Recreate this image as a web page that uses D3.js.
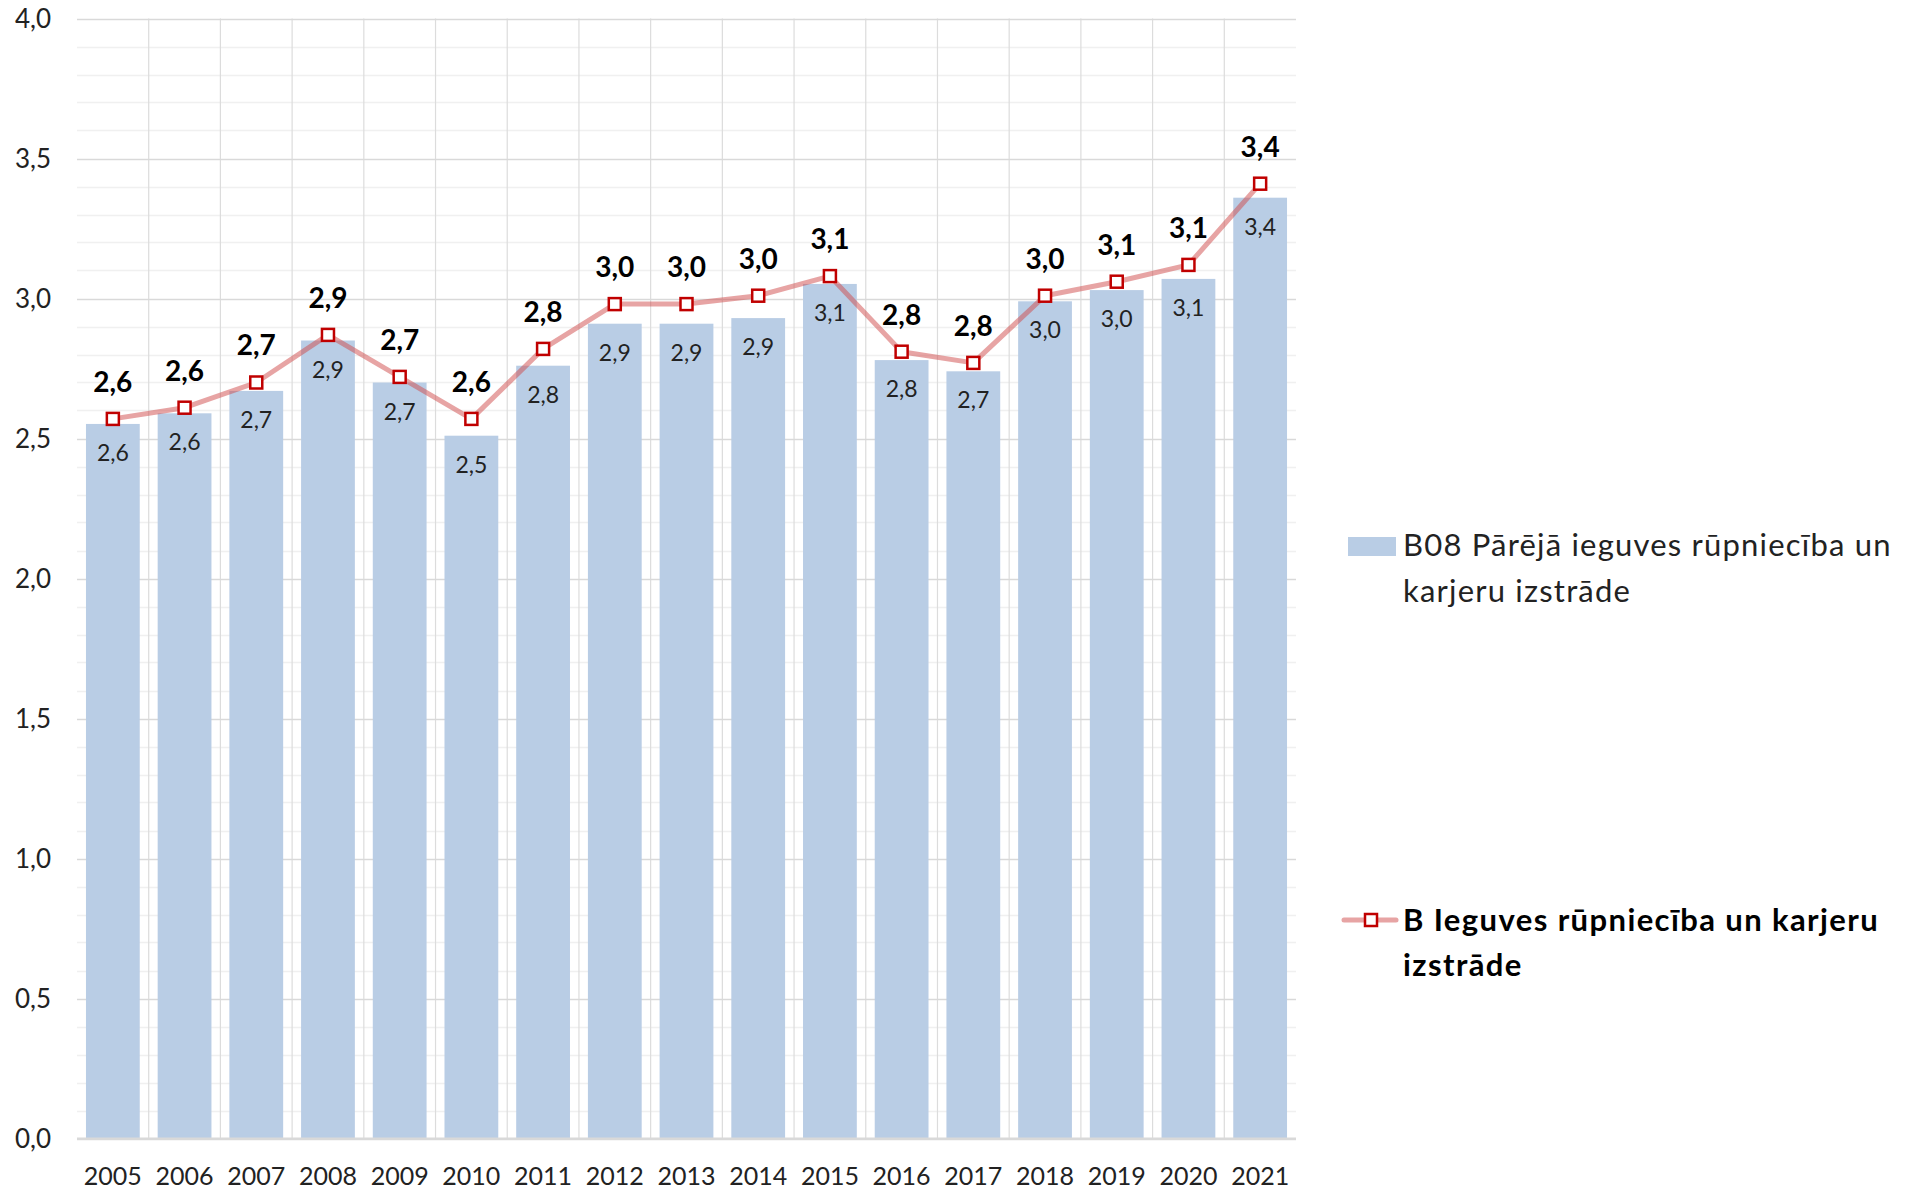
<!DOCTYPE html>
<html>
<head>
<meta charset="utf-8">
<script src="https://cdn.jsdelivr.net/npm/d3@7"></script>
<style>
  body { margin: 0; background: #fff; }
  svg { display: block; }
</style>
</head>
<body>
<div id="chart"></div>
<script>
var years = ["2005", "2006", "2007", "2008", "2009", "2010", "2011", "2012", "2013",
             "2014", "2015", "2016", "2017", "2018", "2019", "2020", "2021"]
var barValues = [2.552, 2.59, 2.67, 2.85, 2.70, 2.51, 2.76, 2.91, 2.91,
                 2.93, 3.052, 2.78, 2.74, 2.99, 3.03, 3.07, 3.36]
var lineValues = [2.57, 2.61, 2.70, 2.87, 2.72, 2.57, 2.82, 2.98, 2.98,
                  3.01, 3.08, 2.81, 2.77, 3.01, 3.06, 3.12, 3.41]
var yTicks = [0, 0.5, 1, 1.5, 2, 2.5, 3, 3.5, 4]
var barName = ["B08 Pārējā ieguves rūpniecība un", "karjeru izstrāde"]
var lineName = ["B Ieguves rūpniecība un karjeru", "izstrāde"]

var width = 1911, height = 1191
var plot = {left: 77, right: 1296, top: 18.5, bottom: 1138.5}
var font = "Lato, 'Open Sans', sans-serif"

var fmt = function(v) { return v.toFixed(1).replace(".", ",") }

var svg = d3.select("#chart").append("svg")
  .attr("width", width)
  .attr("height", height)

/* Scales */
var x = d3.scaleBand().domain(years).range([plot.left, plot.right])
  .paddingInner(0.25).paddingOuter(0.125)
var y = d3.scaleLinear().domain([0, 4]).range([plot.bottom, plot.top])

/* Grid */
var minor = d3.range(0, 4.01, 0.1).map(function(d) { return +d.toFixed(1) })
svg.append("g").selectAll("line")
  .data(minor.filter(function(d) { return yTicks.indexOf(d) < 0 }))
  .enter().append("line")
  .attr("x1", plot.left).attr("x2", plot.right)
  .attr("y1", function(d) { return Math.round(y(d)) + 0.5 })
  .attr("y2", function(d) { return Math.round(y(d)) + 0.5 })
  .attr("stroke", "#f0f0f0").attr("stroke-width", 1.5)

svg.append("g").selectAll("line")
  .data(years.slice(1))
  .enter().append("line")
  .attr("x1", function(d) { return x(d) - x.step() * x.paddingInner() / 2 })
  .attr("x2", function(d) { return x(d) - x.step() * x.paddingInner() / 2 })
  .attr("y1", plot.top).attr("y2", plot.bottom)
  .attr("stroke", "#dcdcdc").attr("stroke-width", 1.2)

svg.append("g").selectAll("line")
  .data(yTicks)
  .enter().append("line")
  .attr("x1", plot.left).attr("x2", plot.right)
  .attr("y1", function(d) { return Math.round(y(d)) + 0.5 })
  .attr("y2", function(d) { return Math.round(y(d)) + 0.5 })
  .attr("stroke", "#d9d9d9").attr("stroke-width", 1.5)

/* Bars */
svg.append("g").selectAll("rect")
  .data(barValues)
  .enter().append("rect")
  .attr("x", function(d, i) { return x(years[i]) })
  .attr("y", function(d) { return y(d) })
  .attr("width", x.bandwidth())
  .attr("height", function(d) { return y(0) - y(d) })
  .attr("fill", "#b9cde5")

/* Axis line */
svg.append("line")
  .attr("x1", plot.left).attr("x2", plot.right)
  .attr("y1", y(0)).attr("y2", y(0))
  .attr("stroke", "#d9d9d9").attr("stroke-width", 2)

/* Bar labels */
svg.append("g").selectAll("text")
  .data(barValues)
  .enter().append("text")
  .attr("x", function(d, i) { return x(years[i]) + x.bandwidth() / 2 })
  .attr("y", function(d) { return y(d) + 29 })
  .attr("dy", "0.35em")
  .attr("text-anchor", "middle")
  .attr("font-family", font)
  .attr("font-size", "23px")
  .attr("fill", "#222")
  .text(fmt)

/* Line */
var line = d3.line()
  .x(function(d, i) { return x(years[i]) + x.bandwidth() / 2 })
  .y(function(d) { return y(d) })

svg.append("path")
  .datum(lineValues)
  .attr("d", line)
  .attr("fill", "none")
  .attr("stroke", "#d04a4a")
  .attr("stroke-opacity", 0.5)
  .attr("stroke-width", 5)
  .attr("stroke-linejoin", "round")

var ms = 12
svg.append("g").selectAll("rect")
  .data(lineValues)
  .enter().append("rect")
  .attr("x", function(d, i) { return x(years[i]) + x.bandwidth() / 2 - ms / 2 })
  .attr("y", function(d) { return y(d) - ms / 2 })
  .attr("width", ms).attr("height", ms)
  .attr("fill", "#fff")
  .attr("stroke", "#c00000")
  .attr("stroke-width", 2.5)

svg.append("g").selectAll("text")
  .data(lineValues)
  .enter().append("text")
  .attr("x", function(d, i) { return x(years[i]) + x.bandwidth() / 2 })
  .attr("y", function(d) { return y(d) - 37 })
  .attr("dy", "0.35em")
  .attr("text-anchor", "middle")
  .attr("font-family", font)
  .attr("font-size", "28px")
  .attr("font-weight", "bold")
  .attr("fill", "#000")
  .text(fmt)

/* Axes labels */
svg.append("g").selectAll("text")
  .data(yTicks)
  .enter().append("text")
  .attr("x", 51)
  .attr("y", function(d) { return y(d) })
  .attr("dy", "0.35em")
  .attr("text-anchor", "end")
  .attr("font-family", font)
  .attr("font-size", "26px")
  .attr("fill", "#222")
  .text(fmt)

svg.append("g").selectAll("text")
  .data(years)
  .enter().append("text")
  .attr("x", function(d) { return x(d) + x.bandwidth() / 2 })
  .attr("y", 1176)
  .attr("dy", "0.35em")
  .attr("text-anchor", "middle")
  .attr("font-family", font)
  .attr("font-size", "25px")
  .attr("fill", "#222")
  .text(function(d) { return d })

/* Legend */
var legend = svg.append("g")
legend.append("rect")
  .attr("x", 1348).attr("y", 537)
  .attr("width", 48).attr("height", 19)
  .attr("fill", "#b9cde5")
legend.selectAll(".bar-name")
  .data(barName)
  .enter().append("text")
  .attr("class", "bar-name")
  .attr("x", 1403)
  .attr("y", function(d, i) { return 545 + i * 46 })
  .attr("dy", "0.35em")
  .attr("font-family", font)
  .attr("font-size", "31px")
  .attr("letter-spacing", "1.2px")
  .attr("fill", "#222")
  .text(function(d) { return d })

legend.append("line")
  .attr("x1", 1344).attr("x2", 1396)
  .attr("y1", 920).attr("y2", 920)
  .attr("stroke", "#d04a4a")
  .attr("stroke-opacity", 0.5)
  .attr("stroke-width", 5)
  .attr("stroke-linecap", "round")
legend.append("rect")
  .attr("x", 1371 - ms / 2).attr("y", 920 - ms / 2)
  .attr("width", ms).attr("height", ms)
  .attr("fill", "#fff")
  .attr("stroke", "#c00000")
  .attr("stroke-width", 2.5)
legend.selectAll(".line-name")
  .data(lineName)
  .enter().append("text")
  .attr("class", "line-name")
  .attr("x", 1403)
  .attr("y", function(d, i) { return 920 + i * 45 })
  .attr("dy", "0.35em")
  .attr("font-family", font)
  .attr("font-size", "31px")
  .attr("letter-spacing", "1.4px")
  .attr("font-weight", "bold")
  .attr("fill", "#000")
  .text(function(d) { return d })
</script>
</body>
</html>
